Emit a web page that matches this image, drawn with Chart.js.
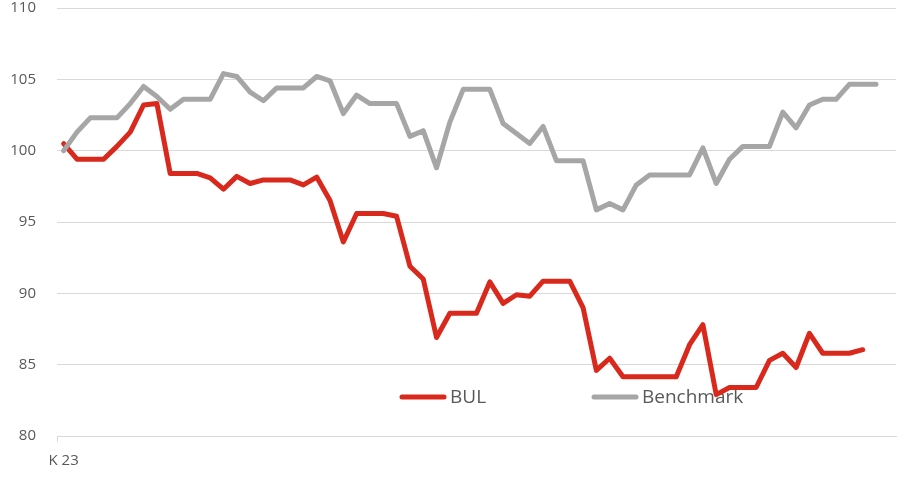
<!DOCTYPE html>
<html>
<head>
<meta charset="utf-8">
<script src="https://cdn.jsdelivr.net/npm/chart.js@4.4.1/dist/chart.umd.min.js"></script>
<style>
  html, body { margin: 0; padding: 0; background: #ffffff; }
  #wrap { width: 912px; height: 477px; }
</style>
</head>
<body>
<div id="wrap"><canvas id="lineCanvas" width="912" height="477"></canvas></div>
<script>
// Series values (index, start = 100)
const bulValues = [
    100.5, 99.4, 99.4, 99.4, 100.3, 101.3, 103.2, 103.3, 98.4, 98.4,
    98.4, 98.1, 97.3, 98.2, 97.7, 97.95, 97.95, 97.95, 97.6, 98.15,
    96.5, 93.6, 95.6, 95.6, 95.6, 95.4, 91.9, 91.0, 86.9, 88.6,
    88.6, 88.6, 90.8, 89.3, 89.9, 89.8, 90.85, 90.85, 90.85, 89.0,
    84.6, 85.45, 84.15, 84.15, 84.15, 84.15, 84.15, 86.4, 87.8, 82.9,
    83.4, 83.4, 83.4, 85.3, 85.8, 84.8, 87.2, 85.8, 85.8, 85.8,
    86.05
];
const benchmarkValues = [
    100.0, 101.3, 102.3, 102.3, 102.3, 103.3, 104.5, 103.8, 102.9, 103.6,
    103.6, 103.6, 105.4, 105.2, 104.1, 103.5, 104.4, 104.4, 104.4, 105.2,
    104.9, 102.6, 103.9, 103.3, 103.3, 103.3, 101.0, 101.4, 98.8, 102.0,
    104.3, 104.3, 104.3, 101.9, 101.2, 100.5, 101.7, 99.3, 99.3, 99.3,
    95.85, 96.3, 95.85, 97.6, 98.3, 98.3, 98.3, 98.3, 100.2, 97.7,
    99.4, 100.3, 100.3, 100.3, 102.7, 101.6, 103.2, 103.6, 103.6, 104.65,
    104.65, 104.65
];
// Category axis: only the first period carries a label
const categoryCount = 63;
const firstLabel = 'K 23';
const categories = [];
for (let i = 0; i < categoryCount; i++) {
    categories.push(i === 0 ? firstLabel : '');
}
const yTicks = [80, 85, 90, 95, 100, 105, 110];

const seriesNames = ['BUL', 'Benchmark'];
const seriesColors = ['#d9291c', '#a6a6a6'];
const textColor = '#595959';
const gridColor = '#d9d9d9';
const fontFamily = '"Open Sans", "DejaVu Sans", sans-serif';

// Legend drawn inside the plot area, underneath the lines
const insideLegend = {
    id: 'insideLegend',
    beforeDatasetsDraw(chart) {
        const c = chart.ctx;
        const items = [
            { x: 400, textX: 450 },
            { x: 592, textX: 642 }
        ];
        const y = 397;
        c.save();
        chart.data.datasets.forEach((ds, i) => {
            const it = items[i];
            c.strokeStyle = ds.borderColor;
            c.lineWidth = 5;
            c.lineCap = 'round';
            c.beginPath();
            c.moveTo(it.x + 2, y);
            c.lineTo(it.x + 44, y);
            c.stroke();
            c.fillStyle = textColor;
            c.font = '19px ' + fontFamily;
            c.textBaseline = 'middle';
            c.textAlign = 'left';
            c.fillText(ds.label, it.textX, y + 1);
        });
        c.restore();
    }
};

const ctx = document.getElementById('lineCanvas').getContext('2d');

let myChart = new Chart(ctx, {
    type: 'line',
    data: {
        labels: categories,
        datasets: [{
            label: seriesNames[0],
            data: bulValues,
            borderColor: seriesColors[0],
            backgroundColor: seriesColors[0],
            borderWidth: 5,
            pointRadius: 0,
            tension: 0,
            borderJoinStyle: 'round',
            borderCapStyle: 'round',
            fill: false,
            order: 1
        }, {
            label: seriesNames[1],
            data: benchmarkValues,
            borderColor: seriesColors[1],
            backgroundColor: seriesColors[1],
            borderWidth: 5,
            pointRadius: 0,
            tension: 0,
            borderJoinStyle: 'round',
            borderCapStyle: 'round',
            fill: false,
            order: 0
        }]
    },
    options: {
        responsive: false,
        animation: false,
        layout: {
            padding: { top: 8, right: 16, left: 0, bottom: 0 }
        },
        scales: {
            x: {
                offset: true,
                afterFit(scale) {
                    scale.height = 41;
                    scale.paddingLeft = 0;
                    scale.paddingRight = 0;
                },
                border: { display: true, color: gridColor, width: 1 },
                grid: {
                    offset: true,
                    drawOnChartArea: false,
                    drawTicks: true,
                    tickLength: 6,
                    color: c => (c.index === 0 ? gridColor : 'rgba(0,0,0,0)')
                },
                ticks: {
                    autoSkip: false,
                    maxRotation: 0,
                    color: textColor,
                    padding: 10,
                    font: { family: fontFamily, size: 15 }
                }
            },
            y: {
                min: yTicks[0],
                max: yTicks[yTicks.length - 1],
                afterFit(scale) {
                    scale.width = 57;
                    scale.paddingTop = 0;
                    scale.paddingBottom = 0;
                },
                afterBuildTicks(scale) {
                    scale.ticks = yTicks.map(v => ({ value: v }));
                },
                border: { display: false },
                grid: {
                    color: gridColor,
                    lineWidth: 1,
                    drawTicks: false
                },
                ticks: {
                    color: textColor,
                    padding: 21,
                    font: { family: fontFamily, size: 15 }
                }
            }
        },
        plugins: {
            legend: { display: false },
            tooltip: { enabled: false }
        }
    },
    plugins: [insideLegend]
});
</script>
</body>
</html>
